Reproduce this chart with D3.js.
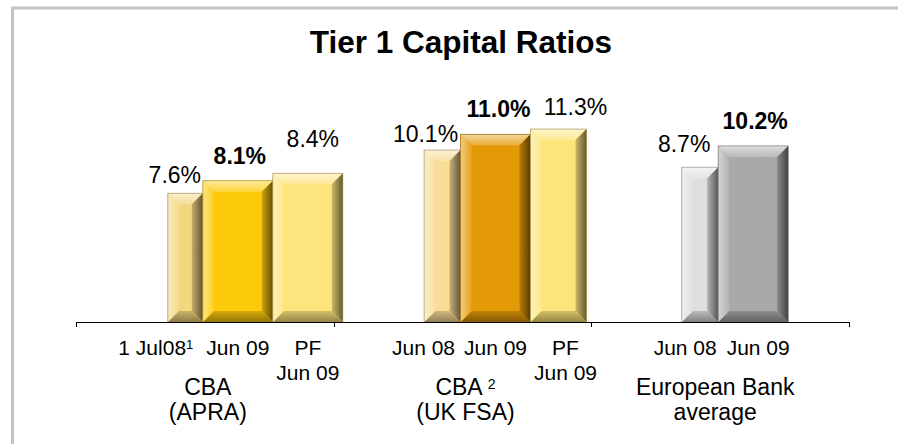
<!DOCTYPE html>
<html>
<head>
<meta charset="utf-8">
<script src="https://cdn.jsdelivr.net/npm/d3@7"></script>
<style>
  html, body { margin: 0; padding: 0; background: #fff; }
  svg { display: block; font-family: 'Liberation Sans', Arial, sans-serif; }
</style>
</head>
<body>
<svg id="chart" width="898" height="444"></svg>
<script>
// chart data
var title = 'Tier 1 Capital Ratios';
var groups = ['CBA (APRA)', 'CBA (UK FSA)', 'European Bank average'];
// {x} marks a superscript, | splits lines
var groupLabels = ['CBA|(APRA)', 'CBA {2}|(UK FSA)', 'European Bank|average'];
var tickLabels = [
  ['1 Jul08{1}', 'Jun 09', 'PF|Jun 09'],
  ['Jun 08', 'Jun 09', 'PF|Jun 09'],
  ['Jun 08', 'Jun 09']
];
var values = [
  [7.6, 8.1, 8.4],
  [10.1, 11.0, 11.3],
  [8.7, 10.2]
];
var boldIndex = 1; // the Jun 09 bar of each group is highlighted

// look
var faceColors = [
  ['#F3D67E', '#FDCA0B', '#FEE47C'],
  ['#F8DC97', '#E49A06', '#FDE57B'],
  ['#DEDEDE', '#A9A9A9']
];
var barFrac = [[0.5, 1, 1], [0.52, 1, 0.8], [0.52, 1]];
// each group was its own little chart, so each has its own value axis
var yDomains = [[2.45, 11.33], [0.27, 12.96], [-2.2, 13.43]];
var labelDx = [[7, 2, 5], [0, 3, 10], [1, 2]];
var labelGap = [[10, 17, 26], [8, 17, 14], [15, 17]];
var tickDx = [[-12, 0, 0], [-2, 0, 0], [2, 5]];

var svg = d3.select('#chart');
var baseY = 322, topY = 100;
var slotShift = 33, slotWidth = 70;

var gx = d3.scaleBand().domain(groups).range([76, 849]).paddingInner(0).paddingOuter(0);

// frame (left and top only visible)
svg.append('path')
  .attr('d', 'M12.5,444 L12.5,8 L898,8')
  .attr('fill', 'none')
  .attr('stroke', '#C3C3C3')
  .attr('stroke-width', 3);

svg.append('text')
  .attr('x', 461)
  .attr('y', 53)
  .attr('text-anchor', 'middle')
  .attr('font-size', 31.5)
  .attr('font-weight', 'bold')
  .attr('fill', '#000')
  .text(title);

var defs = svg.append('defs');

function addGrad(id, horiz, c1, c2) {
  var g = defs.append('linearGradient').attr('id', id)
    .attr('x1', 0).attr('y1', 0)
    .attr('x2', horiz ? 1 : 0).attr('y2', horiz ? 0 : 1);
  g.append('stop').attr('offset', '0%').attr('stop-color', c1);
  g.append('stop').attr('offset', '100%').attr('stop-color', c2);
}

// writes "text{sup}" into a text element with tspans
function richText(sel, str, supSize) {
  var parts = str.split(/\{(.+?)\}/);
  parts.forEach(function (p, i) {
    if (!p) return;
    if (i % 2 === 1) {
      sel.append('tspan').attr('font-size', supSize).attr('baseline-shift', '45%').text(p);
    } else {
      sel.append('tspan').text(p);
    }
  });
}

function drawBar(g, x, y, w, h, face, id) {
  var b = Math.min(11, w * 0.34);
  var white = d3.interpolateRgb(face, '#fff');
  var dk = function (k) { return d3.color(face).darker(k).formatHex(); };
  addGrad(id + 'l', true, white(0.5), white(0.1));
  addGrad(id + 'r', true, dk(0.6), dk(2.6));
  addGrad(id + 't', false, white(0.6), white(0.2));
  addGrad(id + 'b', false, dk(0.5), dk(1.5));

  var pts = function (a) { return a.map(function (p) { return p.join(','); }).join(' '); };
  g.append('rect').attr('x', x).attr('y', y).attr('width', w).attr('height', h).attr('fill', face);
  g.append('polygon').attr('fill', 'url(#' + id + 't)')
    .attr('points', pts([[x, y], [x + w, y], [x + w - b, y + b], [x + b, y + b]]));
  g.append('polygon').attr('fill', 'url(#' + id + 'b)')
    .attr('points', pts([[x, y + h], [x + w, y + h], [x + w - b, y + h - b], [x + b, y + h - b]]));
  g.append('polygon').attr('fill', 'url(#' + id + 'l)')
    .attr('points', pts([[x, y], [x + b, y + b], [x + b, y + h - b], [x, y + h]]));
  g.append('polygon').attr('fill', 'url(#' + id + 'r)')
    .attr('points', pts([[x + w, y], [x + w - b, y + b], [x + w - b, y + h - b], [x + w, y + h]]));
  g.append('rect').attr('x', x).attr('y', y).attr('width', w).attr('height', h)
    .attr('fill', 'none').attr('stroke', dk(1.6)).attr('stroke-width', 0.8).attr('stroke-opacity', 0.7);
}

groups.forEach(function (grp, gi) {
  var x0 = gx(grp), bw = gx.bandwidth();
  var mid = x0 + bw / 2 + slotShift;
  var slot = d3.scaleBand().domain([0, 1, 2])
    .range([mid - 1.5 * slotWidth, mid + 1.5 * slotWidth]);
  var y = d3.scaleLinear().domain(yDomains[gi]).range([baseY, topY]);
  var g = svg.append('g').attr('class', 'group');

  values[gi].forEach(function (v, i) {
    var frac = barFrac[gi][i];
    var w = slot.bandwidth() * frac;
    var x = slot(i);
    if (frac < 1 && i === 0) x = slot(i) + slot.bandwidth() - w; // hugs next bar
    var top = y(v);
    drawBar(g, x, top, w, baseY - top, faceColors[gi][i], 'g' + gi + 'b' + i);

    g.append('text')
      .attr('x', slot(i) + slot.bandwidth() / 2 + labelDx[gi][i])
      .attr('y', top - labelGap[gi][i])
      .attr('text-anchor', 'middle')
      .attr('font-size', 23)
      .attr('font-weight', i === boldIndex ? 'bold' : 'normal')
      .attr('fill', '#000')
      .text(v.toFixed(1) + '%');
  });

  // category tick labels
  tickLabels[gi].forEach(function (lab, i) {
    lab.split('|').forEach(function (line, li) {
      var t = g.append('text')
        .attr('x', slot(i) + slot.bandwidth() / 2 + tickDx[gi][i])
        .attr('y', 355 + li * 25)
        .attr('text-anchor', 'middle')
        .attr('font-size', 21)
        .attr('fill', '#000');
      richText(t, line, 13);
    });
  });

  // group names
  groupLabels[gi].split('|').forEach(function (line, li) {
    var t = g.append('text')
      .attr('x', x0 + bw / 2 + (gi === 2 ? -5 : 3))
      .attr('y', 395 + li * 25)
      .attr('text-anchor', 'middle')
      .attr('font-size', 23)
      .attr('fill', '#000');
    richText(t, line, 14);
  });
});

// baseline with ticks between the groups
var bounds = groups.map(function (d) { return gx(d); }).concat([gx.range()[1]]);
svg.append('line')
  .attr('x1', gx.range()[0]).attr('x2', gx.range()[1])
  .attr('y1', baseY + 0.5).attr('y2', baseY + 0.5)
  .attr('stroke', '#000').attr('stroke-width', 1.2);
svg.selectAll('.tick')
  .data(bounds)
  .join('line')
  .attr('class', 'tick')
  .attr('x1', function (d) { return Math.round(d) + 0.5; })
  .attr('x2', function (d) { return Math.round(d) + 0.5; })
  .attr('y1', baseY).attr('y2', baseY + 5)
  .attr('stroke', '#000').attr('stroke-width', 1);
</script>
</body>
</html>
